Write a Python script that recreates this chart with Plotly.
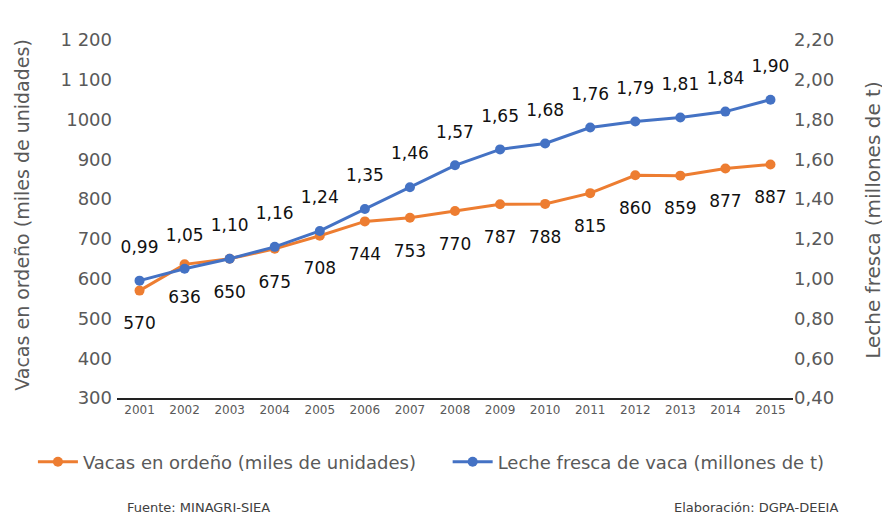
import plotly.graph_objects as go

years = ["2001", "2002", "2003", "2004", "2005", "2006", "2007", "2008",
         "2009", "2010", "2011", "2012", "2013", "2014", "2015"]
vacas = [570, 636, 650, 675, 708, 744, 753, 770, 787, 788, 815, 860, 859, 877, 887]
leche = [0.99, 1.05, 1.10, 1.16, 1.24, 1.35, 1.46, 1.57, 1.65, 1.68, 1.76, 1.79, 1.81, 1.84, 1.90]

left_ticks = [300, 400, 500, 600, 700, 800, 900, 1000, 1100, 1200]
left_text = ["300", "400", "500", "600", "700", "800", "900", "1000", "1 100", "1 200"]
right_ticks = [0.4, 0.6, 0.8, 1.0, 1.2, 1.4, 1.6, 1.8, 2.0, 2.2]
right_text = ["0,40", "0,60", "0,80", "1,00", "1,20", "1,40", "1,60", "1,80", "2,00", "2,20"]

vacas_labels = [str(v) for v in vacas]
leche_labels = [f"{v:.2f}".replace(".", ",") for v in leche]

ORANGE = "#ED7D31"
BLUE = "#4472C4"
FONT = "DejaVu Sans"
GREY = "#595959"
LABEL_FONT = dict(size=17, color="#111111", family=FONT)

fig = go.Figure()
fig.add_trace(go.Scatter(
    x=years, y=vacas, name="Vacas en ordeño (miles de unidades)",
    mode="lines+markers", line=dict(color=ORANGE, width=3),
    marker=dict(size=10, color=ORANGE), yaxis="y", legend="legend"))
fig.add_trace(go.Scatter(
    x=years, y=leche, name="Leche fresca de vaca (millones de t)",
    mode="lines+markers", line=dict(color=BLUE, width=3),
    marker=dict(size=10, color=BLUE), yaxis="y2", legend="legend2"))
# data labels (invisible larger markers give the label offset)
fig.add_trace(go.Scatter(
    x=years, y=vacas, mode="markers+text", text=vacas_labels,
    textposition="bottom center", textfont=LABEL_FONT,
    marker=dict(size=40, opacity=0), showlegend=False, hoverinfo="skip",
    cliponaxis=False, yaxis="y"))
fig.add_trace(go.Scatter(
    x=years, y=leche, mode="markers+text", text=leche_labels,
    textposition="top center", textfont=LABEL_FONT,
    marker=dict(size=36, opacity=0), showlegend=False, hoverinfo="skip",
    cliponaxis=False, yaxis="y2"))

legend_common = dict(orientation="h", xref="container", yref="paper",
                     y=-0.179, yanchor="middle", xanchor="left",
                     font=dict(size=18, color=GREY), itemwidth=40,
                     bgcolor="rgba(0,0,0,0)")

fig.update_layout(
    width=890, height=518,
    margin=dict(l=109, r=105, t=32, b=128, autoexpand=False),
    paper_bgcolor="white", plot_bgcolor="white",
    font=dict(family=FONT, color=GREY),
    showlegend=True,
    legend=dict(x=0.028, **legend_common),
    legend2=dict(x=0.494, **legend_common),
    xaxis=dict(type="category", range=[-0.5, 14.5], showgrid=False,
               showline=True, linecolor="#222222", linewidth=2,
               ticks="", tickfont=dict(size=12, color=GREY), zeroline=False,
               automargin=False),
    yaxis=dict(range=[300, 1200], tickvals=left_ticks, ticktext=left_text,
               showgrid=False, zeroline=False, showline=False, automargin=False,
               tickfont=dict(size=18, color=GREY), ticklabelstandoff=4),
    yaxis2=dict(range=[0.4, 2.2], tickvals=right_ticks, ticktext=right_text,
                overlaying="y", side="right", showgrid=False, zeroline=False,
                showline=False, automargin=False, tickfont=dict(size=18, color=GREY)),
    annotations=[
        dict(text="Vacas en ordeño (miles de unidades)", xref="paper", yref="paper",
             x=-0.141, y=0.511, xanchor="center", yanchor="middle", textangle=-90,
             showarrow=False, font=dict(size=19, color=GREY)),
        dict(text="Leche fresca (millones de t)", xref="paper", yref="paper",
             x=1.118, y=0.497, xanchor="center", yanchor="middle", textangle=-90,
             showarrow=False, font=dict(size=20, color=GREY)),
        dict(text="Fuente: MINAGRI-SIEA", xref="paper", yref="paper",
             x=0.012, y=-0.307, xanchor="left", yanchor="middle", showarrow=False,
             font=dict(size=13, color="#404040")),
        dict(text="Elaboración: DGPA-DEEIA", xref="paper", yref="paper",
             x=1.07, y=-0.307, xanchor="right", yanchor="middle", showarrow=False,
             font=dict(size=13, color="#404040")),
    ],
)

fig.write_html("out.html")
